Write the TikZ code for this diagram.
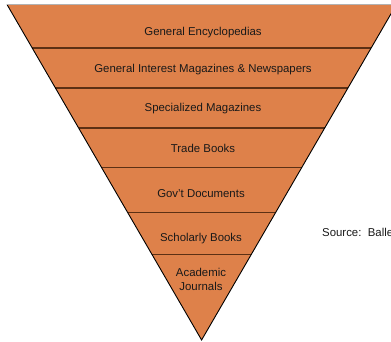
\documentclass[tikz,border=0pt]{standalone}
\usepackage{fontspec}
\setmainfont{Liberation Sans}
\begin{document}
\begin{tikzpicture}[x=1pt,y=-1pt,
  band/.style={line width=1.4pt,draw={rgb,255:red,92;green,48;blue,20}},
  lbl/.style={font=\fontsize{11.4}{14}\selectfont,text={rgb,255:red,25;green,25;blue,25},inner sep=0pt,align=center}]
  \definecolor{funnel}{RGB}{222,129,74}
  \useasboundingbox (0,0) rectangle (391,341);
  \clip (0,0) rectangle (391,341);
  % outer triangle corners
  \coordinate (TL) at (7,4.5);
  \coordinate (TR) at (396.4,4.5);
  \coordinate (AP) at (201.6,340);
  \fill[funnel] (TL) -- (TR) -- (AP) -- cycle;
  % dividing lines between the levels
  \draw[band] (32.2,48) -- (371.2,48);
  \draw[band] (55.4,88) -- (348.0,88);
  \draw[band] (78.6,128) -- (324.8,128);
  \draw[band] (101.5,167.5) -- (301.9,167.5);
  \draw[band] (127.6,212.5) -- (275.8,212.5);
  \draw[band] (152,254.5) -- (251.4,254.5);
  % outline
  \draw[line width=0.9pt,black] (TL) -- (AP) -- (TR);
  \draw[line width=0.8pt,gray!60] (TL) -- (TR);
  % level labels
  \node[lbl] (l1) at (203,32.5) {General Encyclopedias};
  \node[lbl] (l2) at (203,70) {General Interest Magazines \& Newspapers};
  \node[lbl] (l3) at (203,109) {Specialized Magazines};
  \node[lbl] (l4) at (203,148) {Trade Books};
  \node[lbl] (l5) at (201,193.5) {Gov't Documents};
  \node[lbl] (l6) at (201,238.5) {Scholarly Books};
  \node[lbl] (l7) at (201,279.5) {Academic\\Journals};
  \node[lbl,anchor=west] (src) at (322,232.5) {Source:\ \ Balle};
\end{tikzpicture}
\end{document}
